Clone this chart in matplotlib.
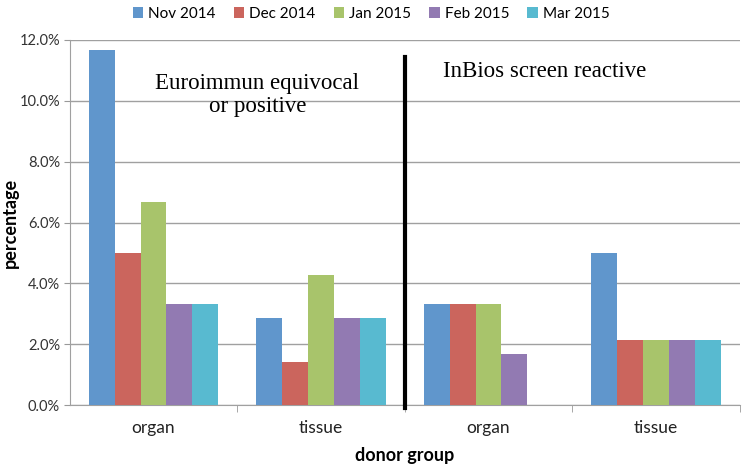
import matplotlib
matplotlib.use("Agg")
import matplotlib.pyplot as plt
import numpy as np

categories = ["organ", "tissue", "organ", "tissue"]
series_names = ["Nov 2014", "Dec 2014", "Jan 2015", "Feb 2015", "Mar 2015"]
nov = [11.67, 2.86, 3.33, 5.00]
dec = [5.00, 1.43, 3.33, 2.14]
jan = [6.67, 4.29, 3.33, 2.14]
feb = [3.33, 2.86, 1.67, 2.14]
mar = [3.33, 2.86, 0.0, 2.14]
series = [nov, dec, jan, feb, mar]
colors = ["#6096CC", "#CB655D", "#A8C46B", "#927AB2", "#58BAD0"]
yticks = [0, 2, 4, 6, 8, 10, 12]

plt.rcParams['font.family'] = ['Lato', 'DejaVu Sans']

fig = plt.figure(figsize=(7.42, 4.65), dpi=100)
ax = fig.add_axes([0.094, 0.129, 0.903, 0.785])

x = np.arange(len(categories))
w = 0.155
for i, (vals, name, c) in enumerate(zip(series, series_names, colors)):
    ax.bar(x + (i - 2) * w, vals, width=w, color=c, label=name, zorder=3)

ax.set_xlim(-0.5, 3.5)
ax.set_ylim(0, 12)
ax.set_yticks(yticks)
ax.set_yticklabels([f"{v:.1f}%" for v in yticks], fontsize=10.5, color="#333333")
ax.set_xticks(x)
ax.set_xticklabels(categories, fontsize=12.5, color="#222222")
ax.tick_params(axis='x', length=0, pad=11)
ax.set_xticks([0.5, 1.5, 2.5, 3.5], minor=True)
ax.tick_params(axis='x', which='minor', length=5, color="#999999", direction='out')
ax.tick_params(axis='y', length=4, color="#999999", direction='out', pad=3)
ax.yaxis.grid(True, color="#A0A0A0", linewidth=1, zorder=0)
ax.set_axisbelow(True)
for s in ['top', 'right']:
    ax.spines[s].set_visible(False)
for s in ['left', 'bottom']:
    ax.spines[s].set_color("#A0A0A0")

ax.set_ylabel("percentage", fontsize=13, fontweight='bold')
ax.yaxis.set_label_coords(-0.076, 0.5)
ax.set_xlabel("donor group", fontsize=13, fontweight='bold', labelpad=8)

# divider line
ax.plot([1.5, 1.5], [-0.1, 11.45], color="black", linewidth=3, clip_on=False, zorder=5)

ax.text(0.62, 10.2, "Euroimmun equivocal\nor positive", family="Liberation Serif",
        fontsize=16.5, ha="center", va="center", linespacing=1.1)
ax.text(1.73, 10.95, "InBios screen reactive", family="Liberation Serif",
        fontsize=16.5, ha="left", va="center")

fig.legend(loc="upper center", bbox_to_anchor=(0.5, 1.015), ncol=5, frameon=False,
           fontsize=11, handlelength=0.7, handleheight=0.7, handletextpad=0.3,
           columnspacing=1.2)

fig.savefig("out.png", dpi=100)
